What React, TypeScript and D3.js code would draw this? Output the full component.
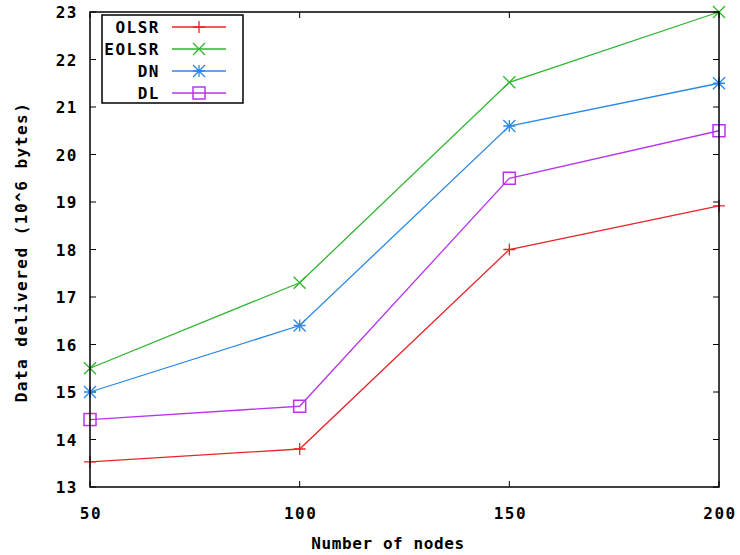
import React from "react";
import * as d3 from "d3";

const nodes = [50, 100, 150, 200];
const seriesNames = ["OLSR", "EOLSR", "DN", "DL"];
const olsr = [13.53, 13.8, 18.0, 18.92];
const eolsr = [15.5, 17.3, 21.52, 23.0];
const dn = [15.0, 16.4, 20.6, 21.5];
const dl = [14.42, 14.7, 19.5, 20.5];
const yTicks = [13, 14, 15, 16, 17, 18, 19, 20, 21, 22, 23];
const colors = ["#e8262a", "#2fb52f", "#2a88e6", "#b835ef"];
const markers = ["plus", "cross", "star", "square"];

const W = 740, H = 555;
const L = 90, R = 719, T = 12, B = 487;
const FONT = "'DejaVu Sans Mono', monospace";

function Marker({ kind, x, y, color }: { kind: string; x: number; y: number; color: string }) {
  const s = 6;
  if (kind === "plus")
    return <path d={`M${x - s},${y}H${x + s}M${x},${y - s}V${y + s}`} stroke={color} strokeWidth={1.3} fill="none" />;
  if (kind === "cross")
    return <path d={`M${x - s},${y - s}L${x + s},${y + s}M${x - s},${y + s}L${x + s},${y - s}`} stroke={color} strokeWidth={1.3} fill="none" />;
  if (kind === "star")
    return <path d={`M${x - s},${y}H${x + s}M${x},${y - s}V${y + s}M${x - s},${y - s}L${x + s},${y + s}M${x - s},${y + s}L${x + s},${y - s}`} stroke={color} strokeWidth={1.3} fill="none" />;
  return <rect x={x - 6} y={y - 6} width={12} height={12} stroke={color} strokeWidth={1.5} fill="none" />;
}

export default function App() {
  const x = d3.scaleLinear().domain([50, 200]).range([L, R]);
  const y = d3.scaleLinear().domain([13, 23]).range([B, T]);
  const data = [olsr, eolsr, dn, dl];
  const line = d3.line<number>().x((_, i) => x(nodes[i])).y((d) => y(d));
  const tl = 6;
  const textStyle = { fontFamily: FONT, fontWeight: 700, fontSize: 16, letterSpacing: 1.5 } as const;
  const titleStyle = { fontFamily: FONT, fontWeight: 700, fontSize: 16, letterSpacing: 0.6 } as const;

  return (
    <svg width={W} height={H} style={{ position: "absolute", left: 0, top: 0, background: "#fff" }}>
      <rect x={0} y={0} width={W} height={H} fill="#fff" />
      {yTicks.map((t) => (
        <g key={"y" + t}>
          <line x1={L} x2={L + tl} y1={y(t)} y2={y(t)} stroke="#000" />
          <line x1={R} x2={R - tl} y1={y(t)} y2={y(t)} stroke="#000" />
          <text x={78} y={y(t) + 6} textAnchor="end" fill="#000" style={textStyle}>{t}</text>
        </g>
      ))}
      {nodes.map((n) => (
        <g key={"x" + n}>
          <line x1={x(n)} x2={x(n)} y1={B} y2={B - tl} stroke="#000" />
          <line x1={x(n)} x2={x(n)} y1={T} y2={T + tl} stroke="#000" />
          <text x={x(n) + 1} y={519} textAnchor="middle" fill="#000" style={textStyle}>{n}</text>
        </g>
      ))}
      {data.map((d, si) => (
        <g key={seriesNames[si]}>
          <path d={line(d) || ""} stroke={colors[si]} strokeWidth={1.3} fill="none" />
          {d.map((v, i) => (
            <Marker key={i} kind={markers[si]} x={x(nodes[i])} y={y(v)} color={colors[si]} />
          ))}
        </g>
      ))}
      <rect x={L} y={T} width={R - L} height={B - T} fill="none" stroke="#000" strokeWidth={1.5} />
      <rect x={102} y={15} width={141} height={88} fill="#fff" stroke="#000" strokeWidth={1.5} />
      {seriesNames.map((name, i) => {
        const ly = 27 + i * 22;
        return (
          <g key={"leg" + name}>
            <text x={160} y={ly + 6} textAnchor="end" fill="#000" style={textStyle}>{name}</text>
            <line x1={172} x2={226} y1={ly} y2={ly} stroke={colors[i]} strokeWidth={1.3} />
            <Marker kind={markers[i]} x={199} y={ly} color={colors[i]} />
          </g>
        );
      })}
      <text x={388} y={549} textAnchor="middle" fill="#000" style={titleStyle}>Number of nodes</text>
      <text transform={`translate(27,252) rotate(-90)`} textAnchor="middle" fill="#000" style={textStyle}>Data delivered (10^6 bytes)</text>
    </svg>
  );
}
